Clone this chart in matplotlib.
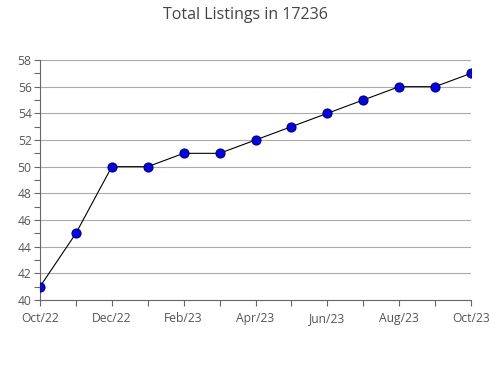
import matplotlib
matplotlib.use("Agg")
import matplotlib.pyplot as plt
from matplotlib.ticker import MultipleLocator

months = ["Oct/22", "Nov/22", "Dec/22", "Jan/23", "Feb/23", "Mar/23", "Apr/23",
          "May/23", "Jun/23", "Jul/23", "Aug/23", "Sep/23", "Oct/23"]
listings = [41, 45, 50, 50, 51, 51, 52, 53, 54, 55, 56, 56, 57]
title = "Total Listings in 17236"

plt.rcParams['font.family'] = ['Open Sans', 'DejaVu Sans']

fig = plt.figure(figsize=(4.9, 3.8), dpi=100)
ax = fig.add_axes([40/490, 1-300/380, 431/490, 240/380])

x = list(range(len(months)))
ax.plot(x, listings, color='black', lw=0.8, marker='o', markersize=6.5,
        markerfacecolor='#0000ff', markeredgecolor='#000060', markeredgewidth=0.8, zorder=3)

ax.set_xlim(0, len(months) - 1)
ax.set_ylim(40, 58)
ax.set_xticks(x)
ax.set_xticklabels([m if i % 2 == 0 else "" for i, m in enumerate(months)],
                   va='baseline')
ax.yaxis.set_major_locator(MultipleLocator(2))
ax.yaxis.set_minor_locator(MultipleLocator(1))
ax.grid(axis='y', which='major', color='#aaaaaa', lw=0.8)
ax.set_axisbelow(True)

for s in ['top', 'right']:
    ax.spines[s].set_visible(False)
for s in ['left', 'bottom']:
    ax.spines[s].set_color('#666666')
    ax.spines[s].set_linewidth(0.8)

ax.tick_params(axis='both', which='both', colors='#666666', labelcolor='#555555',
               labelsize=8.7, direction='out', length=4, width=0.8)
ax.tick_params(axis='x', pad=12)
ax.tick_params(axis='y', pad=2)

fig.text(0.5, 1-15/380, title, ha='center', va='center', fontsize=11.5, color='#444444')

fig.canvas.draw()
for tick in ax.xaxis.get_major_ticks():
    tick.label1.set_verticalalignment('baseline')

fig.savefig("out.png", dpi=100)
